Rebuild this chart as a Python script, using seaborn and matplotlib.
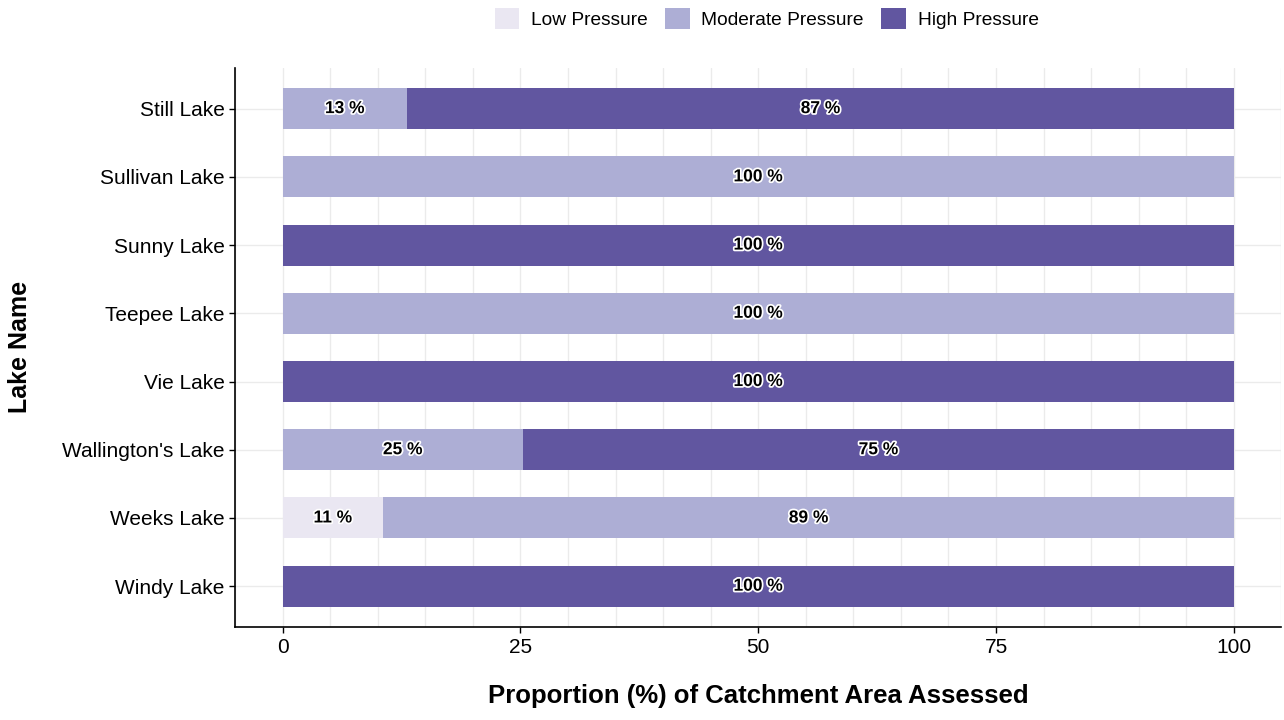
import matplotlib.pyplot as plt
import matplotlib.patheffects as pe
from matplotlib.patches import Patch
from matplotlib.ticker import MultipleLocator
import seaborn as sns
import pandas as pd
import numpy as np

lakes = ["Still Lake", "Sullivan Lake", "Sunny Lake", "Teepee Lake",
         "Vie Lake", "Wallington's Lake", "Weeks Lake", "Windy Lake"]
low = [0, 0, 0, 0, 0, 0, 10.6, 0]
moderate = [13.1, 100, 0, 100, 0, 25.3, 89.4, 0]
high = [86.9, 0, 100, 0, 100, 74.7, 0, 100]

levels = ["Low Pressure", "Moderate Pressure", "High Pressure"]
colors = ["#EAE7F2", "#ADAED5", "#6156A0"]

sns.set_style("white")
plt.rcParams["font.family"] = ["Liberation Sans", "DejaVu Sans"]
plt.rcParams["text.color"] = "black"

df = pd.DataFrame({"lake": lakes, "low": low, "moderate": moderate, "high": high})
df["cum_low"] = df["low"]
df["cum_mod"] = df["low"] + df["moderate"]
df["cum_high"] = df["cum_mod"] + df["high"]

fig = plt.figure(figsize=(12.84, 7.2), dpi=100)
ax = fig.add_axes([0.183, 0.129, 0.815, 0.777])

# stacked bars: draw cumulative totals back to front
for col, c in zip(["cum_high", "cum_mod", "cum_low"], colors[::-1]):
    sns.barplot(data=df, x=col, y="lake", color=c, width=0.6, ax=ax,
                orient="h", saturation=1, linewidth=0, zorder=3)

# percentage labels centred on each segment
halo = [pe.withStroke(linewidth=2.5, foreground="white")]
for i, row in df.iterrows():
    start = 0
    for key in ["low", "moderate", "high"]:
        v = row[key]
        if v > 0:
            ax.text(start + v / 2, i, f"{round(v):d} %", ha="center", va="center",
                    fontsize=12.5, fontweight="bold", color="black",
                    path_effects=halo, zorder=5)
        start += v

ax.set_xlim(-5, 105)
ax.set_ylim(7.6, -0.6)
ax.set_xticks([0, 25, 50, 75, 100])
ax.set_xticklabels(["0", "25", "50", "75", "100"])
ax.xaxis.set_minor_locator(MultipleLocator(5))
ax.grid(True, which="both", axis="x", color="#EBEBEB", lw=1, zorder=0)
ax.grid(True, which="major", axis="y", color="#EBEBEB", lw=1, zorder=0)
ax.set_axisbelow(True)

for s in ["top", "right"]:
    ax.spines[s].set_visible(False)
for s in ["left", "bottom"]:
    ax.spines[s].set_color("black")
    ax.spines[s].set_linewidth(1.2)

ax.tick_params(axis="both", which="major", length=4, width=1, labelsize=15,
               color="black", labelcolor="black", left=True, bottom=True)
ax.tick_params(axis="x", which="minor", length=0)

ax.set_xlabel("Proportion (%) of Catchment Area Assessed", fontsize=18.5,
              fontweight="bold", labelpad=20, color="black")
ax.set_ylabel("Lake Name", fontsize=18, fontweight="bold", color="black")
ax.yaxis.set_label_coords(-0.194, 0.5)

handles = [Patch(facecolor=c, edgecolor="none") for c in colors]
fig.legend(handles, levels, loc="center", bbox_to_anchor=(0.597, 0.974), ncol=3,
           frameon=False, fontsize=13.8, handlelength=1.3, handleheight=1.3,
           handletextpad=0.6, columnspacing=0.9, labelcolor="black")

fig.savefig("out.png", dpi=100)
